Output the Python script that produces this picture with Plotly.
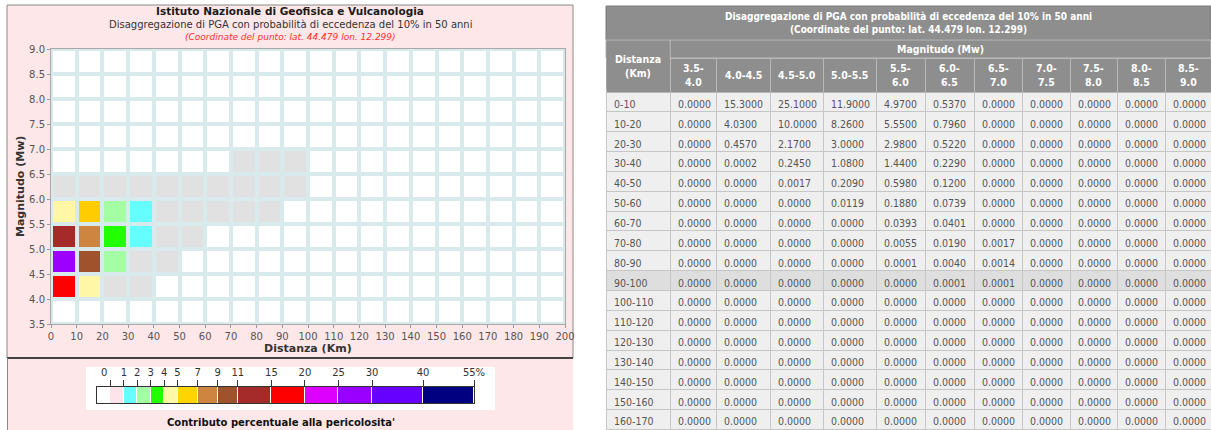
import numpy as np
import plotly.graph_objects as go

W, H = 1211, 430

# ---------------------------------------------------------------- data
dist_labels = ["0-10", "10-20", "20-30", "30-40", "40-50", "50-60", "60-70",
               "70-80", "80-90", "90-100", "100-110", "110-120", "120-130",
               "130-140", "140-150", "150-160", "160-170", "170-180",
               "180-190", "190-200"]
dist_mid = [5, 15, 25, 35, 45, 55, 65, 75, 85, 95, 105, 115, 125, 135, 145,
            155, 165, 175, 185, 195]

mag_labels = ["3.5-4.0", "4.0-4.5", "4.5-5.0", "5.0-5.5", "5.5-6.0", "6.0-6.5",
              "6.5-7.0", "7.0-7.5", "7.5-8.0", "8.0-8.5", "8.5-9.0"]
mag_mid = [3.75, 4.25, 4.75, 5.25, 5.75, 6.25, 6.75, 7.25, 7.75, 8.25, 8.75]

# percentage contribution to hazard, one list per magnitude bin,
# ordered by distance bin (0-10 ... 190-200 km)
mw_35_40 = [0.0000, 0.0000, 0.0000, 0.0000, 0.0000, 0.0000, 0.0000, 0.0000, 0.0000, 0.0000,
            0.0000, 0.0000, 0.0000, 0.0000, 0.0000, 0.0000, 0.0000, 0.0000, 0.0000, 0.0000]
mw_40_45 = [15.3000, 4.0300, 0.4570, 0.0002, 0.0000, 0.0000, 0.0000, 0.0000, 0.0000, 0.0000,
            0.0000, 0.0000, 0.0000, 0.0000, 0.0000, 0.0000, 0.0000, 0.0000, 0.0000, 0.0000]
mw_45_50 = [25.1000, 10.0000, 2.1700, 0.2450, 0.0017, 0.0000, 0.0000, 0.0000, 0.0000, 0.0000,
            0.0000, 0.0000, 0.0000, 0.0000, 0.0000, 0.0000, 0.0000, 0.0000, 0.0000, 0.0000]
mw_50_55 = [11.9000, 8.2600, 3.0000, 1.0800, 0.2090, 0.0119, 0.0000, 0.0000, 0.0000, 0.0000,
            0.0000, 0.0000, 0.0000, 0.0000, 0.0000, 0.0000, 0.0000, 0.0000, 0.0000, 0.0000]
mw_55_60 = [4.9700, 5.5500, 2.9800, 1.4400, 0.5980, 0.1880, 0.0393, 0.0055, 0.0001, 0.0000,
            0.0000, 0.0000, 0.0000, 0.0000, 0.0000, 0.0000, 0.0000, 0.0000, 0.0000, 0.0000]
mw_60_65 = [0.5370, 0.7960, 0.5220, 0.2290, 0.1200, 0.0739, 0.0401, 0.0190, 0.0040, 0.0001,
            0.0000, 0.0000, 0.0000, 0.0000, 0.0000, 0.0000, 0.0000, 0.0000, 0.0000, 0.0000]
mw_65_70 = [0.0000, 0.0000, 0.0000, 0.0000, 0.0000, 0.0000, 0.0000, 0.0017, 0.0014, 0.0001,
            0.0000, 0.0000, 0.0000, 0.0000, 0.0000, 0.0000, 0.0000, 0.0000, 0.0000, 0.0000]
mw_70_75 = [0.0000, 0.0000, 0.0000, 0.0000, 0.0000, 0.0000, 0.0000, 0.0000, 0.0000, 0.0000,
            0.0000, 0.0000, 0.0000, 0.0000, 0.0000, 0.0000, 0.0000, 0.0000, 0.0000, 0.0000]
mw_75_80 = [0.0000, 0.0000, 0.0000, 0.0000, 0.0000, 0.0000, 0.0000, 0.0000, 0.0000, 0.0000,
            0.0000, 0.0000, 0.0000, 0.0000, 0.0000, 0.0000, 0.0000, 0.0000, 0.0000, 0.0000]
mw_80_85 = [0.0000, 0.0000, 0.0000, 0.0000, 0.0000, 0.0000, 0.0000, 0.0000, 0.0000, 0.0000,
            0.0000, 0.0000, 0.0000, 0.0000, 0.0000, 0.0000, 0.0000, 0.0000, 0.0000, 0.0000]
mw_85_90 = [0.0000, 0.0000, 0.0000, 0.0000, 0.0000, 0.0000, 0.0000, 0.0000, 0.0000, 0.0000,
            0.0000, 0.0000, 0.0000, 0.0000, 0.0000, 0.0000, 0.0000, 0.0000, 0.0000, 0.0000]

mag_columns = [mw_35_40, mw_40_45, mw_45_50, mw_50_55, mw_55_60, mw_60_65,
               mw_65_70, mw_70_75, mw_75_80, mw_80_85, mw_85_90]

# colour classes of the percentage contribution
class_edges = [1, 2, 3, 4, 5, 7, 9, 11, 15, 20, 25, 30, 40]
class_colors = ["#ffffff", "#e1e1e1", "#66ffff", "#a4ffa4", "#22ff00",
                "#fff6a6", "#ffcc00", "#cd853f", "#a0522d", "#a52a2a",
                "#ff0000", "#dd00ff", "#9d00ff", "#6600ff", "#000080"]
legend_colors = ["#ffffff", "#fde4ea", "#66ffff", "#a4ffa4", "#22ff00",
                 "#fff9a6", "#ffd400", "#cd853f", "#a0522d", "#a52a2a",
                 "#ff0000", "#dd00ff", "#9900ff", "#6600ff", "#000080"]
legend_labels = ["0", "1", "2", "3", "4", "5", "7", "9", "11", "15", "20",
                 "25", "30", "40", "55%"]
legend_span = [1, 1, 1, 1, 1, 1, 1.5, 1.5, 1.5, 2.5, 2.5, 2.5, 2.5, 3.8, 3.8]

n_table_rows = 17
table_colwidth = [64, 46, 54, 53, 53, 49, 49, 48, 48, 47, 48, 46]

TITLE_1 = "Istituto Nazionale di Geofisica e Vulcanologia"
TITLE_2 = "Disaggregazione di PGA con probabilità di eccedenza del 10% in 50 anni"
TITLE_3 = "(Coordinate del punto: lat. 44.479 lon. 12.299)"

HEAD_GRAY = "#8e8e8e"
HEAD_LINE = "#b8b8b8"
TABLE_FONT = "DejaVu Sans Condensed"


# ---------------------------------------------------------------- helpers
def px(x):
    return x / W


def py(y):
    return 1 - y / H


def classify(v):
    if v <= 0:
        return 0
    return int(np.digitize(v, class_edges)) + 1


def discrete_scale(colors):
    n = len(colors)
    scale = []
    for k, c in enumerate(colors):
        scale.append([k / n, c])
        scale.append([(k + 1) / n, c])
    return scale


values = np.array(mag_columns)            # shape (mag, dist)
z_cls = np.vectorize(classify)(values)

fig = go.Figure()

# ---------------------------------------------------------------- M-R heat map
fig.add_trace(go.Heatmap(
    x=dist_mid, y=mag_mid, z=z_cls,
    colorscale=discrete_scale(class_colors), zmin=-0.5, zmax=len(class_colors) - 0.5,
    showscale=False, xgap=4, ygap=4, hoverinfo="skip",
    xaxis="x", yaxis="y"))

# ---------------------------------------------------------------- legend bar
leg_edges = np.concatenate([[0], np.cumsum(legend_span)])
fig.add_trace(go.Heatmap(
    x=leg_edges, y=[0, 1], z=[list(range(len(legend_colors)))],
    colorscale=discrete_scale(legend_colors), zmin=-0.5, zmax=len(legend_colors) - 0.5,
    showscale=False, xgap=1, ygap=0, hoverinfo="skip",
    xaxis="x2", yaxis="y2"))

# ---------------------------------------------------------------- table
TABLE_X0, TABLE_X1 = 606, 1211
HEAD_Y0, HEAD_Y1 = 58, 92

cell_vals = [dist_labels[:n_table_rows]] + \
            [["%.4f" % v for v in col[:n_table_rows]] for col in mag_columns]
row_fill = ["#dedede" if d == "90-100" else "#efefef" for d in dist_labels[:n_table_rows]]

fig.add_trace(go.Table(
    domain=dict(x=[px(TABLE_X0), px(TABLE_X1)], y=[0, py(HEAD_Y0)]),
    columnwidth=table_colwidth,
    header=dict(values=[""] * len(table_colwidth), height=HEAD_Y1 - HEAD_Y0,
                fill_color=HEAD_GRAY, line=dict(color=HEAD_LINE, width=1),
                font=dict(family=TABLE_FONT, size=11, color="white")),
    cells=dict(values=cell_vals, height=19.85, align="left",
               fill_color=[row_fill] * len(cell_vals),
               line=dict(color="#c6c6c6", width=1),
               font=dict(family=TABLE_FONT, size=10.5, color="#555555"))))

# column boundaries in pixels
scale_w = (TABLE_X1 - TABLE_X0) / sum(table_colwidth)
col_left = TABLE_X0 + scale_w * np.concatenate([[0], np.cumsum(table_colwidth)])

# ---------------------------------------------------------------- frames and bands
shapes = [
    # left panel
    dict(type="rect", xref="paper", yref="paper", x0=px(7), x1=px(573), y0=py(430), y1=py(358),
         fillcolor="#fde7e9", line=dict(width=0), layer="below"),
    dict(type="rect", xref="paper", yref="paper", x0=px(7), x1=px(573), y0=py(358), y1=py(5),
         fillcolor="#fde7e9", line=dict(color="#8a8a8a", width=1), layer="below"),
    dict(type="line", xref="paper", yref="paper", x0=px(7), x1=px(573), y0=py(358), y1=py(358),
         line=dict(color="#444444", width=2), layer="below"),
    dict(type="line", xref="paper", yref="paper", x0=px(7.5), x1=px(7.5), y0=py(358), y1=py(430),
         line=dict(color="#8a8a8a", width=1), layer="below"),
    # white legend box
    dict(type="rect", xref="paper", yref="paper", x0=px(86), x1=px(495), y0=py(410), y1=py(367),
         fillcolor="white", line=dict(width=0), layer="below"),
    # cell grid background
    dict(type="rect", xref="x", yref="y", x0=0, x1=200, y0=3.5, y1=9.0,
         fillcolor="#d8eaec", line=dict(width=0), layer="below"),
    # table title band, "Magnitudo" band, "Distanza" head cell
    dict(type="rect", xref="paper", yref="paper", x0=px(TABLE_X0), x1=px(TABLE_X1),
         y0=py(40), y1=py(6), fillcolor=HEAD_GRAY, line=dict(color="#7a7a7a", width=1),
         layer="below"),
    dict(type="rect", xref="paper", yref="paper", x0=px(col_left[1]), x1=px(TABLE_X1),
         y0=py(HEAD_Y0), y1=py(40), fillcolor=HEAD_GRAY, line=dict(color=HEAD_LINE, width=1),
         layer="below"),
    dict(type="rect", xref="paper", yref="paper", x0=px(TABLE_X0), x1=px(col_left[1]),
         y0=py(HEAD_Y0), y1=py(40), fillcolor=HEAD_GRAY, line=dict(color=HEAD_LINE, width=1),
         layer="below"),
]

ann = []


def note(x, y, text, size, color="#333333", family="DejaVu Sans", **kw):
    ann.append(dict(x=px(x), y=py(y), xref="paper", yref="paper", text=text,
                    showarrow=False, xanchor="center", yanchor="middle",
                    font=dict(family=family, size=size, color=color), **kw))


note(290, 11, "<b>" + TITLE_1 + "</b>", 10.5, "#1a1a1a")
note(290, 24, TITLE_2, 10, "#333333")
note(290, 37, "<i>" + TITLE_3 + "</i>", 9, "#ff3030")
note(308, 348, "<b>Distanza (Km)</b>", 11, "#333333")
note(21, 186, "<b>Magnitudo (Mw)</b>", 11, "#333333", textangle=-90)
note(281, 422, "<b>Contributo percentuale alla pericolosita'</b>", 10, "#111111")

# "0" label sits over the middle of the first (zero) class
ann.append(dict(x=(leg_edges[0] + leg_edges[1]) / 2, y=1, xref="x2", yref="y2",
                yshift=7, text=legend_labels[0], showarrow=False, yanchor="bottom",
                font=dict(family="DejaVu Sans", size=10, color="#333333")))

# table heading text
note((TABLE_X0 + TABLE_X1) / 2, 23, "<b>" + TITLE_2 + "<br>" + TITLE_3 + "</b>", 10,
     "white", family=TABLE_FONT)
note((col_left[1] + TABLE_X1) / 2, 49, "<b>Magnitudo (Mw)</b>", 10.5, "white", family=TABLE_FONT)
note((col_left[0] + col_left[1]) / 2, 66, "<b>Distanza<br>(Km)</b>", 10.5, "white",
     family=TABLE_FONT, bgcolor=HEAD_GRAY, width=60, height=44)
for k, lbl in enumerate(mag_labels):
    w = table_colwidth[k + 1]
    text = lbl.replace("-", "-<br>") if w < 50 else lbl
    note((col_left[k + 1] + col_left[k + 2]) / 2, (HEAD_Y0 + HEAD_Y1) / 2, "<b>" + text + "</b>",
         10.5, "white", family=TABLE_FONT)

axis_font = dict(family="DejaVu Sans", size=10, color="#555555")

fig.update_layout(
    width=W, height=H, margin=dict(l=0, r=0, t=0, b=0, pad=0, autoexpand=False),
    paper_bgcolor="white", plot_bgcolor="#262626",
    showlegend=False, shapes=shapes, annotations=ann,
    xaxis=dict(domain=[px(51), px(565)], range=[0, 200], tickmode="array",
               tickvals=list(range(0, 201, 10)), ticks="outside", ticklen=3,
               tickcolor="#999999", tickfont=axis_font, showgrid=False, zeroline=False,
               showline=True, linecolor="#a8a8a8", mirror=True, fixedrange=True,
               automargin=False),
    yaxis=dict(domain=[py(324), py(49)], range=[3.5, 9.0], tickmode="array",
               tickvals=[3.5 + 0.5 * k for k in range(12)], tickformat=".1f",
               ticks="outside", ticklen=3, tickcolor="#999999", tickfont=axis_font,
               showgrid=False, zeroline=False, showline=True, linecolor="#a8a8a8",
               mirror=True, fixedrange=True, automargin=False),
    xaxis2=dict(domain=[px(97), px(474)], range=[leg_edges[0], leg_edges[-1]],
                anchor="y2", side="top", tickmode="array",
                tickvals=list(leg_edges[1:]), ticktext=[""] + legend_labels[1:],
                ticks="outside", ticklen=6, tickcolor="#333333",
                tickfont=dict(family="DejaVu Sans", size=10, color="#333333"),
                showgrid=False, zeroline=False, showline=True, linecolor="#333333",
                mirror=True, fixedrange=True, automargin=False),
    yaxis2=dict(domain=[py(403), py(387)], range=[0, 1], anchor="x2",
                showticklabels=False, ticks="", showgrid=False, zeroline=False,
                showline=True, linecolor="#333333", mirror=True, fixedrange=True,
                automargin=False),
)

fig.write_html("out.html")
